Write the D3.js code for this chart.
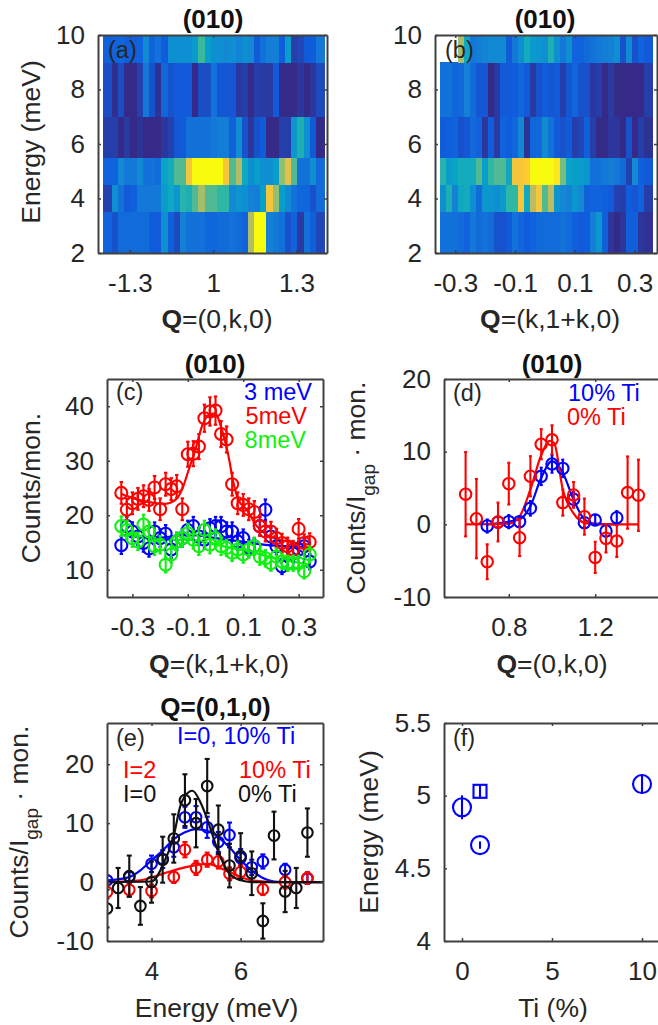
<!DOCTYPE html>
<html>
<head>
<meta charset="utf-8">
<script src="https://cdn.jsdelivr.net/npm/d3@7"></script>
<style>
  html, body { margin: 0; padding: 0; background: #fff; }
  svg { display: block; }
  text { font-family: "Liberation Sans", Arial, sans-serif; fill: #262626; }
</style>
</head>
<body>
<script>
// colour map stops (parula)
var parula = ["#352a87","#0f5cdd","#1481d6","#06a4ca","#2eb7a4","#87bf77","#d1bb59","#fec832","#f9fb0e"];

// heat maps: energy bin edges, Q bin edges, rows from low to high energy
var energyEdges = [2, 3.5, 4.5, 5.5, 7, 9, 10];
var qEdgesA = [0.602,0.635,0.658,0.68,0.702,0.724,0.747,0.769,0.791,0.813,0.836,0.858,0.88,0.903,0.925,0.947,0.969,0.992,1.014,1.036,1.058,1.081,1.103,1.125,1.147,1.17,1.192,1.214,1.236,1.259,1.281,1.303,1.326,1.348,1.37,1.403];
var kEdgesB = [-0.35,-0.33,-0.31,-0.29,-0.27,-0.25,-0.23,-0.21,-0.19,-0.17,-0.15,-0.13,-0.11,-0.09,-0.07,-0.05,-0.03,-0.01,0.01,0.03,0.05,0.07,0.09,0.11,0.13,0.15,0.17,0.19,0.21,0.23,0.25,0.27,0.29,0.31,0.33,0.36];

var mapA = [
  [.15,.1,.18,.18,.18,.18,.18,.13,.12,.3,.14,.08,.25,.2,.2,.2,.16,.16,.18,.18,.2,.18,.15,.7,1,1,.25,.22,.2,.1,.15,.04,.2,.14,.07],
  [.06,.3,.2,.12,.14,.22,.22,.22,.22,.35,.4,.32,.48,.45,.55,.68,.55,.55,.5,.5,.28,.32,.3,.25,.24,.36,.85,.65,.35,.28,.2,.16,.16,.1,.18],
  [.15,.15,.28,.22,.22,.28,.2,.2,.18,.38,.42,.55,.55,.85,1,1,1,1,1,.85,.55,.7,.4,.3,.35,.3,.3,.35,.65,.8,.55,.2,.2,.3,.18],
  [.05,.05,0,.04,0,.02,0,0,0,.03,.06,.11,.12,.2,.2,.2,.2,.22,.24,.24,.14,.3,.1,.03,.1,.12,0,0,.05,.05,.32,.45,.3,.12,0],
  [.09,.01,.09,0,0,.06,.22,.1,.02,.16,.1,.12,.12,.12,0,.09,.09,.2,.11,.11,.11,.03,.05,0,.05,.04,.04,.12,0,0,0,.03,0,.03,.08],
  [.14,.15,.16,.14,.14,.15,.28,.15,.2,.13,.3,.3,.3,.3,.34,.52,.36,.3,.3,.28,.3,.26,.3,.28,.12,.2,.24,.24,.13,.35,.05,.07,.12,.13,.22]
];
var mapB = [
  [.2,.2,.2,.18,.15,.22,.18,.2,.18,.1,.1,.12,.2,.16,.13,.15,.17,.18,.18,.18,.2,.18,.14,.12,.13,.24,.33,.14,.03,0,.03,.14,.14,.03,.02],
  [.3,.45,.25,.4,.42,.3,.18,.33,.33,.3,.34,.5,.5,.85,.4,.72,.85,.55,.72,.32,.27,.25,.33,.28,.14,.15,.15,.14,.12,.06,.05,.13,.11,.15,.05],
  [.48,.35,.38,.42,.42,.42,.55,.35,.5,.55,.55,.4,.85,.85,.88,1,1,1,1,.95,.6,.38,.35,.35,.33,.2,.2,.22,.24,.22,.18,.06,.28,.14,.12],
  [.13,.14,.15,.1,.11,.17,.15,.03,.13,.04,.15,.13,.16,.27,.02,.16,.17,.28,.2,.12,.1,.12,.05,.07,.14,.05,0,0,.03,.03,0,.1,0,.05,.02],
  [.2,.2,.16,.17,.25,.18,.11,.11,0,.04,.12,.12,.13,.16,.12,.04,.1,.13,.11,.12,.05,.11,.16,.1,.1,.03,.05,0,.04,0,0,0,0,0,.05],
  [null,null,null,.68,.4,.22,.24,.26,.28,.28,.28,.12,.22,.3,.42,.34,.33,.3,.45,.3,.22,.3,.15,.15,.18,.2,.22,.24,.25,.3,.1,.28,.1,.15,.12]
];

// panel (c)
var kC = [-0.34,-0.32,-0.3,-0.28,-0.26,-0.24,-0.22,-0.2,-0.18,-0.16,-0.14,-0.12,-0.1,-0.08,-0.06,-0.04,-0.02,0,0.02,0.04,0.06,0.08,0.1,0.12,0.14,0.16,0.18,0.2,0.22,0.24,0.26,0.28,0.3,0.32,0.34];
var red5 = [24.1,21,22.2,23,23.5,22.8,25.1,21.1,25.7,24.8,25.3,21.1,31.2,31.3,32.6,37.8,39.05,39.2,34.9,33.9,25.7,22.2,21.9,21.1,20.6,18,17,17,15.8,14.9,14.3,13.7,17.5,14.9,15.1];
var red5Err = [2,2,2,2,2,2,2.1,2,2.1,2,2.1,2,2.3,2.3,2.3,2.5,2.6,2.6,2.4,2.4,2.1,2,2,2,2,1.8,1.8,1.8,1.7,1.7,1.6,1.6,1.8,1.6,1.6];
var blue3 = [14.5,18,17,16.1,14.9,13.9,17,15.8,16.6,13.7,15.2,15.8,17.3,18,16.1,15.5,17.6,18,18,17,17,15.2,15.8,14,14.3,18,21,16.1,14.3,10.6,11.2,13,13.7,14.3,11.5];
var blue3Err = [1.6,1.7,1.7,1.6,1.6,1.5,1.7,1.6,1.6,1.5,1.6,1.6,1.7,1.7,1.6,1.6,1.7,1.7,1.7,1.7,1.7,1.6,1.6,1.5,1.5,1.7,1.9,1.6,1.5,1.4,1.4,1.5,1.5,1.5,1.4];
var green8 = [18,17.3,15.8,15.2,18.3,17,14.3,14.6,10.9,12.8,15.2,15.8,16.7,15.5,14.3,17.3,14.6,15.8,14.3,14,13.1,13.7,12.8,13.7,14.3,12.4,12.1,11.2,12.4,11.5,11.2,11.2,11.2,9.7,12.8];
var green8Err = [1.8,1.7,1.6,1.6,1.8,1.7,1.6,1.6,1.4,1.5,1.6,1.6,1.7,1.6,1.6,1.7,1.6,1.6,1.6,1.5,1.5,1.5,1.5,1.5,1.6,1.5,1.5,1.4,1.5,1.4,1.4,1.4,1.4,1.3,1.5];
var fitKRed = [-0.339,-0.295,-0.241,-0.181,-0.145,-0.121,-0.097,-0.073,-0.049,-0.025,-0.001,0.023,0.047,0.065,0.083,0.113,0.149,0.185,0.233,0.281,0.341];
var fitRed = [23.9,23.1,22.4,22.1,22.8,24.7,28.3,32,36.3,38.4,38.7,35.7,30.8,25.9,22.8,21,18,16.4,15.5,15,14.6];
var fitKBlue = [-0.339,-0.211,-0.091,0,0.09,0.173,0.318];
var fitBlue = [16.4,15.9,16.4,15.8,15.2,14.6,14.2];
var fitKGreen = [-0.339,-0.211,-0.091,0,0.113,0.221,0.341];
var fitGreen = [17.3,15.5,15.5,14.6,13.4,12.1,10.9];

// panel (d)
var qD0 = [0.6,0.65,0.7,0.75,0.8,0.85,0.9,0.95,1,1.05,1.1,1.15,1.2,1.25,1.3,1.35,1.4];
var ti0 = [4.14,0.78,-5.15,0.32,5.6,-1.84,6.62,11.03,11.63,2.99,4.05,1.06,-4.55,-1.93,-2.3,4.37,4];
var ti0Err = [5.8,5.45,2.4,2.67,2.87,2.53,2.76,2.07,2,1.8,1.77,2.48,2.14,1.95,2.2,4.97,4.9];
var qD10 = [0.7,0.75,0.8,0.85,0.9,0.95,1,1.05,1.1,1.15,1.2,1.25,1.3];
var ti10 = [-0.23,0.3,0.37,0.37,2.2,6.6,8.3,7.7,3.45,0.23,0.6,-0.92,0.92];
var ti10Err = [0.9,0.7,0.9,0.7,1,1.2,1.2,1.2,1,0.7,0.7,0.8,0.9];
var fitQ0 = [0.6,0.8,0.85,0.9,0.95,0.99,1.01,1.05,1.1,1.15,1.2,1.4];
var fitTi0 = [0,0.1,1.1,4.8,9.5,11.5,11.2,4.8,1.5,0.2,0,0];
var fitQ10 = [0.7,0.85,0.9,0.95,1,1.05,1.1,1.15,1.2,1.3];
var fitTi10 = [0,0.7,2.5,6.4,8.7,7.1,3.4,0.7,0.1,0];

// panel (e)
var eBlack = [3,3.25,3.5,3.75,4,4.25,4.5,4.75,5,5.25,5.5,5.75,6,6.25,6.5,6.75,7,7.25,7.5];
var black0 = [-4.5,-1,1,-4.05,0,3.8,7.4,13.9,10,16.3,8.9,2.8,4.4,1.5,-6.6,7.9,-1.6,-1,8.4];
var black0Err = [3.2,3.4,3.5,3.2,3.5,3.9,4.1,4.4,4.1,4.6,4.1,3.7,3.9,3.7,3,4.05,3.5,3.4,4.1];
var eBlue = [3,3.5,4,4.25,4.5,4.75,5,5.25,5.5,5.75,6,6.25,6.5,7,7.5];
var blue10 = [0.3,0.85,3.1,3.9,5.9,11,11,9.3,6.8,8,4.1,2.5,3.5,2.1,0.6];
var blue10Err = [0.8,1,1.4,1.5,1.6,1.8,1.9,1.8,1.7,2.1,1.5,1.3,1.2,1,0.9];
var eRed = [3,3.5,4,4.5,4.75,5,5.25,5.5,5.75,6,6.5,7,7.5];
var red10 = [-1.7,-1.3,-1.5,0.85,5.5,2.4,3.8,3.5,1.4,1.7,-1.2,0,0.7];
var red10Err = [1.1,1.1,1.1,1,1.3,1.2,1.2,1.2,1.1,1.2,1,1.1,1];
var fitEBlue = [3,3.5,3.75,4,4.25,4.5,4.75,5,5.25,5.5,5.75,6,6.25,6.5,6.75,7.1,7.85];
var fitE10 = [0.28,0.85,2,3.7,5.35,7.3,8.45,9,8.7,7.6,5.9,3.7,2,0.7,0.1,0,0];
var fitERed = [3,3.75,4.25,4.75,5.25,5.75,6.25,6.75,7.85];
var fitE2 = [0,0.3,1.4,2.5,3.1,1.7,0.3,0,0];
var fitEBlack = [3,4,4.25,4.5,4.65,4.75,4.92,5.1,5.25,5.5,5.75,6,6.25,7.85];
var fitE0 = [0,0.1,2.8,7.9,13,14.6,15.5,13.5,10.7,5.1,1.4,0.3,0,0];

// panel (f)
var tiCircle = [0,1,10];
var gapCircle = [4.92,4.66,5.08];
var gapCircleErr = [0.075,0.018,0.06];
var tiSquare = [1];
var gapSquare = [5.03];
var gapSquareErr = [0.045];

var W = 658, H = 1025;
var axisColor = "#404040", blue = "#0000ff", red = "#ff0000", green = "#10f010", black = "#111111";

var svg = d3.select("body").append("svg").attr("width", W).attr("height", H);
var defs = svg.append("defs");
var clipCount = 0;

var colorScale = d3.scaleLinear()
    .domain(parula.map(function(c, i) { return i / (parula.length - 1); }))
    .range(parula);

function makePanel(box, xDomain, yDomain, xTicks, xLabels, yTicks, yLabels) {
    var x = d3.scaleLinear().domain(xDomain).range([box.x0, box.x1]);
    var y = d3.scaleLinear().domain(yDomain).range([box.y1, box.y0]);
    var id = "clip" + (clipCount++);
    defs.append("clipPath").attr("id", id).append("rect")
        .attr("x", box.x0).attr("y", box.y0)
        .attr("width", box.x1 - box.x0).attr("height", box.y1 - box.y0);
    var plot = svg.append("g").attr("clip-path", "url(#" + id + ")");
    return { box: box, x: x, y: y, plot: plot,
             xTicks: xTicks, xLabels: xLabels, yTicks: yTicks, yLabels: yLabels };
}

function finishAxes(p) {
    var box = p.box, g = svg.append("g");
    var xf = function(d, i) { return p.xLabels[i]; };
    var yf = function(d, i) { return p.yLabels[i]; };

    g.append("g").attr("transform", "translate(0," + box.y1 + ")")
        .call(d3.axisBottom(p.x).tickValues(p.xTicks).tickFormat(xf).tickSizeInner(-3).tickSizeOuter(0).tickPadding(21));
    g.append("g").attr("transform", "translate(0," + box.y0 + ")")
        .call(d3.axisTop(p.x).tickValues(p.xTicks).tickFormat("").tickSizeInner(-3).tickSizeOuter(0));
    g.append("g").attr("transform", "translate(" + box.x0 + ",0)")
        .call(d3.axisLeft(p.y).tickValues(p.yTicks).tickFormat(yf).tickSizeInner(-3).tickSizeOuter(0).tickPadding(13));
    g.append("g").attr("transform", "translate(" + box.x1 + ",0)")
        .call(d3.axisRight(p.y).tickValues(p.yTicks).tickFormat("").tickSizeInner(-3).tickSizeOuter(0));

    g.selectAll(".domain").attr("stroke", axisColor).attr("stroke-width", 2);
    g.selectAll(".tick line").attr("stroke", axisColor).attr("stroke-width", 1.5);
    g.selectAll(".tick text").style("font-family", '"Liberation Sans", Arial, sans-serif')
        .style("font-size", "26px").attr("fill", "#262626");
}

function drawHeatCells(p, xEdges, rows) {
    rows.forEach(function(row, r) {
        var cells = row.map(function(v, i) { return { v: v, a: xEdges[i], b: xEdges[i + 1] }; })
            .filter(function(c) { return c.v !== null; });
        p.plot.selectAll("rect.r" + r).data(cells).enter().append("rect")
            .attr("class", "r" + r)
            .attr("shape-rendering", "crispEdges")
            .attr("x", function(c) { return p.x(c.a); })
            .attr("width", function(c) { return p.x(c.b) - p.x(c.a) + 0.3; })
            .attr("y", p.y(energyEdges[r + 1]))
            .attr("height", p.y(energyEdges[r]) - p.y(energyEdges[r + 1]) + 0.3)
            .attr("fill", function(c) { return colorScale(c.v); });
    });
}

function drawFit(p, xs, ys, color) {
    var line = d3.line()
        .x(function(d, i) { return p.x(xs[i]); })
        .y(function(d) { return p.y(d); })
        .curve(d3.curveMonotoneX);
    p.plot.append("path").attr("d", line(ys))
        .attr("fill", "none").attr("stroke", color).attr("stroke-width", 2.2);
}

function drawPoints(p, xs, ys, errs, color, r, cap, square) {
    var g = p.plot.append("g").attr("stroke", color).attr("fill", "none").attr("stroke-width", 2.1);
    var pts = ys.map(function(v, i) { return { x: xs[i], y: v, e: errs[i] }; });
    g.selectAll("line.bar").data(pts).enter().append("line").attr("class", "bar")
        .attr("x1", function(d) { return p.x(d.x); }).attr("x2", function(d) { return p.x(d.x); })
        .attr("y1", function(d) { return p.y(d.y - d.e); }).attr("y2", function(d) { return p.y(d.y + d.e); });
    [-1, 1].forEach(function(s) {
        g.selectAll("line.cap" + s).data(pts).enter().append("line").attr("class", "cap" + s)
            .attr("x1", function(d) { return p.x(d.x) - cap; }).attr("x2", function(d) { return p.x(d.x) + cap; })
            .attr("y1", function(d) { return p.y(d.y + s * d.e); }).attr("y2", function(d) { return p.y(d.y + s * d.e); });
    });
    if (square) {
        g.selectAll("rect").data(pts).enter().append("rect")
            .attr("x", function(d) { return p.x(d.x) - r; }).attr("y", function(d) { return p.y(d.y) - r; })
            .attr("width", 2 * r).attr("height", 2 * r);
    } else {
        g.selectAll("circle").data(pts).enter().append("circle")
            .attr("cx", function(d) { return p.x(d.x); }).attr("cy", function(d) { return p.y(d.y); })
            .attr("r", r);
    }
}

function label(x, y, str, opts) {
    opts = opts || {};
    return svg.append("text").attr("x", x).attr("y", y).text(str)
        .attr("text-anchor", opts.anchor || "start")
        .style("font-size", (opts.size || 23.5) + "px")
        .style("font-weight", opts.weight || "normal")
        .style("fill", opts.color || "#262626");
}

function title(x, y, str) {
    label(x, y, str, { anchor: "middle", size: 26, weight: "bold", color: "#111" });
}

function qLabel(x, y, rest) {
    var t = svg.append("text").attr("x", x).attr("y", y).attr("text-anchor", "middle").style("font-size", "26.5px");
    t.append("tspan").style("font-weight", "bold").text("Q");
    t.append("tspan").text(rest);
}

function bottomLabel(x, y, str) {
    svg.append("text").attr("x", x).attr("y", y).attr("text-anchor", "middle").style("font-size", "26.5px").text(str);
}

function yLabel(x, y, str) {
    svg.append("text").attr("transform", "translate(" + x + "," + y + ") rotate(-90)")
        .attr("text-anchor", "middle").style("font-size", "26.5px").text(str);
}

function yLabelGap(x, y) {
    var t = svg.append("text").attr("transform", "translate(" + x + "," + y + ") rotate(-90)")
        .attr("text-anchor", "middle").style("font-size", "26.5px");
    t.append("tspan").text("Counts/I");
    t.append("tspan").attr("dy", 10).style("font-size", "19px").text("gap");
    t.append("tspan").attr("dy", -10).text(" \u00b7 mon.");
}

// (a)
var pa = makePanel({ x0: 98, x1: 327, y0: 35, y1: 253 }, [0.585, 1.41], [2, 10],
    [0.7, 1, 1.3], ["-1.3", "1", "1.3"], [2, 4, 6, 8, 10], ["2", "4", "6", "8", "10"]);
drawHeatCells(pa, qEdgesA, mapA);
finishAxes(pa);
title(213, 28, "(010)");
label(108, 58, "(a)");
qLabel(217, 328, "=(0,k,0)");
yLabel(40, 142, "Energy (meV)");

// (b)
var pb = makePanel({ x0: 435, x1: 657, y0: 35, y1: 253 }, [-0.368, 0.375], [2, 10],
    [-0.3, -0.1, 0.1, 0.3], ["-0.3", "-0.1", "0.1", "0.3"], [2, 4, 6, 8, 10], ["2", "4", "6", "8", "10"]);
drawHeatCells(pb, kEdgesB, mapB);
finishAxes(pb);
title(545, 28, "(010)");
label(445, 58, "(b)");
qLabel(550, 328, "=(k,1+k,0)");

// (c)
var pc = makePanel({ x0: 107, x1: 323, y0: 379, y1: 597 }, [-0.3917, 0.388], [5, 45],
    [-0.3, -0.1, 0.1, 0.3], ["-0.3", "-0.1", "0.1", "0.3"], [10, 20, 30, 40], ["10", "20", "30", "40"]);
drawFit(pc, fitKBlue, fitBlue, blue);
drawFit(pc, fitKRed, fitRed, red);
drawFit(pc, fitKGreen, fitGreen, green);
drawPoints(pc, kC, blue3, blue3Err, blue, 6, 1.7);
drawPoints(pc, kC, red5, red5Err, red, 6, 1.7);
drawPoints(pc, kC, green8, green8Err, green, 6, 1.7);
finishAxes(pc);
title(215, 372.5, "(010)");
label(116, 400, "(c)");
label(312, 400, "3 meV", { anchor: "end", color: blue });
label(307, 424, "5meV", { anchor: "end", color: red });
label(306, 448, "8meV", { anchor: "end", color: green });
qLabel(219, 673, "=(k,1+k,0)");
yLabel(40, 488, "Counts/mon.");

// (d)
var pd = makePanel({ x0: 444, x1: 662, y0: 379, y1: 597 }, [0.5, 1.5093], [-10, 20],
    [0.8, 1.2], ["0.8", "1.2"], [-10, 0, 10, 20], ["-10", "0", "10", "20"]);
drawFit(pd, fitQ10, fitTi10, blue);
drawFit(pd, fitQ0, fitTi0, red);
drawPoints(pd, qD10, ti10, ti10Err, blue, 5.7, 1.5);
drawPoints(pd, qD0, ti0, ti0Err, red, 5.7, 1.5);
finishAxes(pd);
title(552, 372.5, "(010)");
label(453, 401, "(d)");
label(568, 401, "10% Ti", { color: blue });
label(567, 425, "0% Ti", { color: red });
qLabel(552, 673, "=(0,k,0)");
yLabelGap(365, 488);

// (e)
var pe = makePanel({ x0: 107, x1: 323, y0: 723, y1: 941 }, [3, 7.85], [-10, 27],
    [4, 6], ["4", "6"], [-10, 0, 10, 20], ["-10", "0", "10", "20"]);
drawFit(pe, fitEBlue, fitE10, blue);
drawFit(pe, fitERed, fitE2, red);
drawPoints(pe, eBlue, blue10, blue10Err, blue, 5.3, 2.5);
drawPoints(pe, eRed, red10, red10Err, red, 5.3, 2.5);
drawPoints(pe, eBlack, black0, black0Err, black, 5.3, 2.5);
drawFit(pe, fitEBlack, fitE0, black);
finishAxes(pe);
title(215.5, 716, "Q=(0,1,0)");
label(116, 746, "(e)");
label(177, 744, "I=0, 10% Ti", { color: blue });
label(123, 778, "I=2", { color: red });
label(239, 778, "10% Ti", { color: red });
label(123, 802, "I=0", { color: "#111" });
label(238, 802, "0% Ti", { color: "#111" });
bottomLabel(216.5, 1016.5, "Energy (meV)");
yLabelGap(28, 832);

// (f)
var pf = makePanel({ x0: 444, x1: 662, y0: 723, y1: 941 }, [-1, 11.11], [4, 5.5],
    [0, 5, 10], ["0", "5", "10"], [4, 4.5, 5, 5.5], ["4", "4.5", "5", "5.5"]);
drawPoints(pf, tiCircle, gapCircle, gapCircleErr, blue, 9, 1);
drawPoints(pf, tiSquare, gapSquare, gapSquareErr, blue, 6.5, 0, true);
finishAxes(pf);
label(453, 746, "(f)");
bottomLabel(553, 1016.5, "Ti (%)");
yLabel(378, 832, "Energy (meV)");
</script>
</body>
</html>
